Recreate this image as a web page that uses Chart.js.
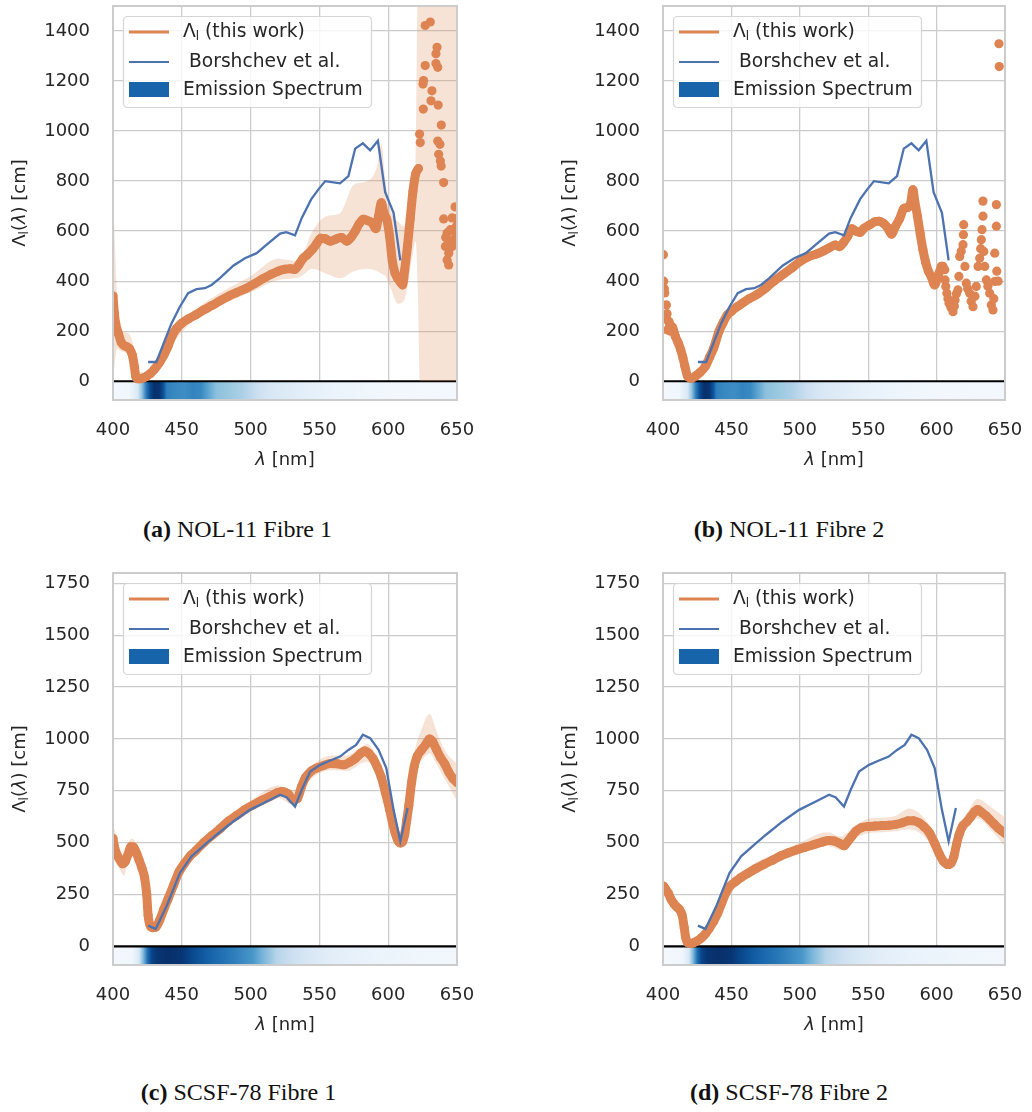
<!DOCTYPE html>
<html>
<head>
<meta charset="utf-8">
<script src="https://cdn.jsdelivr.net/npm/chart.js@4.4.1/dist/chart.umd.min.js"></script>
<style>
  body { margin: 0; background: #fff; }
  #page { position: relative; width: 1032px; height: 1112px; }
  .panel { position: absolute; width: 480px; }
  .cap { position: absolute; text-align: center; font-family: "Liberation Serif", serif; font-size: 24px; color: #111; }
</style>
</head>
<body>
<div id="page">
  <div class="panel" style="left:0;top:0;height:480px"><canvas id="chartA"></canvas></div>
  <div class="panel" style="left:550px;top:0;height:480px"><canvas id="chartB"></canvas></div>
  <div class="panel" style="left:0;top:567px;height:478px"><canvas id="chartC"></canvas></div>
  <div class="panel" style="left:550px;top:567px;height:478px"><canvas id="chartD"></canvas></div>
  <div class="cap" style="left:0;top:516px;width:475px"><b>(a)</b> NOL-11 Fibre 1</div>
  <div class="cap" style="left:550px;top:516px;width:478px"><b>(b)</b> NOL-11 Fibre 2</div>
  <div class="cap" style="left:0;top:1079px;width:477px"><b>(c)</b> SCSF-78 Fibre 1</div>
  <div class="cap" style="left:550px;top:1079px;width:478px"><b>(d)</b> SCSF-78 Fibre 2</div>
</div>
<script>
// axis ticks
const xTicks = [400, 450, 500, 550, 600, 650];
const yTicksNol = [0, 200, 400, 600, 800, 1000, 1200, 1400];
const yTicksScsf = [0, 250, 500, 750, 1000, 1250, 1500, 1750];

// Borshchev et al. reference curves
const borLamNol = [425.5, 431.5, 442.5, 448.6, 454.6, 460.7, 466.8, 471.6, 477.7, 487.4, 495.9, 504.4, 511.7, 521.4, 525.9, 532.3, 537.2, 544, 549.3, 554.2, 565, 571.1, 576, 581.6, 586.9, 592.5, 597.8, 603.9, 608.8];
const borValNol = [77, 77, 231, 298, 352, 368, 372, 385, 412, 462, 492, 512, 546, 590, 596, 583, 653, 727, 767, 800, 791, 820, 930, 951, 923, 961, 756, 673, 483];
const borLamScsf = [425.5, 431, 438.9, 448.6, 457.1, 466.8, 475.3, 487.4, 499.5, 511.7, 521.4, 526.3, 532.3, 537.2, 543.3, 550.6, 557.9, 565, 571.1, 576.7, 581.6, 586.9, 593, 598.6, 603.9, 608.8, 614.1];
const borValScsf = [100, 84, 193, 353, 434, 490, 538, 602, 658, 698, 731, 718, 674, 755, 843, 875, 896, 915, 947, 971, 1020, 1004, 947, 859, 658, 506, 667];

// emission spectra (normalised intensity)
const emLamNol = [400, 412, 418, 421, 424, 427, 430, 434, 437, 439, 445, 452, 458, 464, 469, 475, 485, 494, 505, 516, 530, 548, 570, 600, 650];
const emValNol = [0.02, 0.04, 0.15, 0.4, 0.7, 0.9, 1.0, 0.98, 0.85, 0.7, 0.66, 0.64, 0.68, 0.66, 0.55, 0.42, 0.38, 0.33, 0.22, 0.15, 0.12, 0.08, 0.05, 0.03, 0.02];
const emLamScsf = [400, 414, 419, 422, 425, 428, 432, 440, 450, 456, 468, 485, 502, 508, 519, 530, 543, 560, 580, 620, 650];
const emValScsf = [0.02, 0.04, 0.15, 0.45, 0.75, 0.92, 0.98, 1.0, 0.98, 0.92, 0.82, 0.72, 0.6, 0.48, 0.3, 0.22, 0.15, 0.1, 0.07, 0.04, 0.03];

// (a) NOL-11 fibre 1
const lamA = [400, 401, 402, 404, 406, 408, 410, 412, 414, 415.5, 416.5, 418, 420, 422, 424, 427, 430, 434, 437, 440, 443, 446, 450, 455, 460, 466, 472, 478, 484, 490, 497, 503, 509, 515, 520, 525, 529, 532, 535, 538, 541, 545, 548, 551, 554, 558, 562, 566, 570, 573, 576, 579, 582, 585, 588, 591, 593, 595, 597, 599, 601, 603, 605, 607, 609, 610.5, 612, 614, 616, 618, 620, 622];
const valA = [341, 270, 230, 190, 155, 143, 138, 130, 105, 60, 20, 10, 10, 13, 18, 30, 47, 77, 105, 140, 182, 210, 232, 250, 265, 285, 303, 322, 340, 355, 372, 390, 410, 428, 440, 448, 450, 447, 465, 490, 505, 528, 550, 572, 570, 560, 568, 575, 560, 575, 600, 630, 648, 642, 635, 610, 660, 713, 670, 646, 580, 480, 432, 410, 395, 385, 445, 540, 650, 760, 830, 850];
const noisyLamA = [622.8, 623.3, 625.5, 625.7, 625.3, 626.9, 626.9, 630.6, 631.1, 631.8, 634.7, 634.7, 635.5, 636.0, 636.3, 636.0, 637.6, 636.7, 637.9, 638.5, 638.6, 640.3, 640.3, 646.4, 648.6, 642.8, 645.2, 641.6, 644.0, 642.8, 644.0, 647.6, 646.4, 648.9, 649.6, 643.5, 645.5, 641.8, 644.5, 649.3];
const noisyValA = [988, 954, 1088, 1202, 1188, 1262, 1422, 1436, 1121, 1161, 1309, 1270, 1335, 1255, 1104, 960, 947, 907, 880, 860, 1024, 794, 649, 653, 697, 593, 606, 539, 512, 485, 465, 566, 539, 593, 620, 550, 560, 575, 530, 650];
const bandLamA = [400, 401, 403, 406, 410, 414, 418, 425, 440, 460, 480, 500, 520, 535, 545, 555, 565, 575, 585, 592, 595, 598, 602, 607, 612, 617, 620, 621.5, 623, 640, 645, 650];
const bandLowA = [0, 60, 130, 120, 110, 70, 0, 15, 130, 250, 310, 355, 405, 415, 450, 430, 412, 440, 450, 440, 430, 420, 370, 310, 330, 480, 560, 365, 0, 0, 0, 0];
const bandHighA = [760, 600, 350, 200, 195, 160, 40, 35, 160, 285, 360, 420, 490, 480, 600, 660, 672, 785, 800, 860, 950, 800, 680, 640, 620, 800, 870, 1600, 1600, 1600, 1600, 1600];

// (b) NOL-11 fibre 2
const lamB = [405, 407, 409, 411, 413, 414.5, 416, 418, 421, 424, 427, 431, 434, 437, 441, 444, 447, 450, 454, 458, 463, 469, 475, 481, 488, 494, 500, 506, 512, 517, 522, 526, 529, 532, 535, 538, 541, 544, 547, 551, 555, 558, 561, 564, 567, 570, 573, 576, 579, 581, 582.7, 584, 586, 588, 590, 592, 594, 596, 598.6, 601, 603.5];
const valB = [225, 215, 180, 155, 125, 95, 60, 20, 12, 22, 35, 60, 95, 132, 200, 235, 265, 280, 297, 312, 330, 348, 372, 400, 428, 452, 478, 497, 508, 520, 535, 545, 538, 555, 580, 610, 600, 595, 612, 625, 638, 640, 632, 615, 588, 620, 650, 690, 695, 710, 765, 720, 660, 590, 526, 475, 440, 419, 385, 420, 460];
const noisyLamB = [400.3, 400.5, 401, 401.3, 402.5, 403, 403.2, 403.3, 404.5, 405.5, 604.7, 606, 606.2, 606.7, 607.5, 608.3, 609.1, 610.5, 612, 613, 613.5, 614.5, 615.6, 616.3, 616.9, 618, 619.3, 619.6, 619.8, 620.7, 621.7, 622.7, 624.2, 625.3, 626.6, 628, 629, 630.3, 631.5, 632.2, 632.7, 633.2, 633.9, 633.9, 634.5, 635.2, 636.4, 637.5, 638.8, 640, 641.2, 641.8, 642.5, 642.5, 643.7, 643.7, 644, 645, 645.6, 645.8];
const noisyValB = [506, 400, 370, 353, 305, 270, 245, 205, 238, 200, 459, 446, 405, 379, 352, 330, 312, 295, 278, 300, 325, 350, 365, 419, 499, 520, 546, 586, 626, 459, 392, 370, 352, 320, 298, 340, 379, 459, 492, 530, 566, 606, 660, 720, 519, 459, 405, 380, 352, 305, 285, 330, 399, 512, 620, 706, 440, 400, 1349, 1258];

// (c) SCSF-78 fibre 1
const lamC = [400, 401, 403, 405, 407, 409, 411, 413, 415, 417, 419, 421, 423, 424.5, 425.5, 427, 429, 431, 434, 437, 440, 444, 448, 452, 456, 460, 466, 472, 478, 484, 490, 496, 502, 508, 514, 519, 523, 527, 531, 534, 537, 540, 544, 548, 553, 558, 563, 568, 572, 576, 580, 583, 586, 589, 592, 595, 598, 601, 603, 605, 607, 608.8, 610.5, 612, 613.5, 615, 617, 619, 621, 624, 627, 630, 632, 635, 638, 641, 644, 647, 650];
const valC = [520, 480, 440, 418, 398, 410, 445, 480, 478, 450, 415, 378, 330, 250, 150, 100, 90, 92, 128, 180, 228, 295, 360, 400, 435, 460, 500, 535, 568, 604, 632, 660, 682, 703, 722, 740, 747, 737, 707, 712, 770, 815, 845, 860, 872, 882, 880, 875, 888, 905, 930, 942, 930, 905, 865, 815, 740, 660, 600, 548, 510, 498, 505, 540, 610, 680, 790, 870, 915, 945, 970, 1000, 990, 950, 910, 880, 840, 810, 790];
const bandLamC = [400, 402, 405, 408, 411, 414, 418, 422, 426, 430, 440, 460, 480, 500, 520, 530, 540, 550, 560, 570, 580, 585, 590, 600, 608, 612, 618, 625, 630, 635, 640, 645, 650];
const bandLowC = [420, 400, 370, 340, 420, 440, 400, 330, 90, 75, 210, 440, 555, 650, 715, 685, 780, 835, 850, 845, 880, 890, 850, 650, 480, 500, 820, 900, 930, 880, 820, 760, 700];
const bandHighC = [590, 540, 470, 430, 500, 520, 480, 420, 160, 110, 250, 480, 600, 700, 775, 750, 830, 900, 920, 920, 960, 975, 930, 700, 520, 580, 900, 1060, 1120, 1040, 960, 910, 880];

// (d) SCSF-78 fibre 2
const lamD = [400.5, 402, 404, 406, 408, 410, 412, 414, 415.5, 416.5, 418, 420, 422, 425, 428, 431, 434, 437, 440, 443, 446, 449, 453, 457, 462, 468, 474, 480, 486, 492, 498, 504, 510, 516, 521, 525, 529, 532.5, 535, 538, 541, 545, 550, 555, 560, 565, 570, 575, 579, 583, 587, 591, 595, 599, 602, 605, 608, 610.5, 612.5, 614.5, 616.5, 619, 622, 625, 628, 630, 633, 636, 639, 642, 645, 648, 650];
const valD = [290, 275, 255, 225, 205, 190, 178, 150, 90, 45, 18, 14, 16, 26, 40, 60, 88, 120, 160, 210, 258, 290, 312, 332, 352, 375, 396, 415, 436, 452, 466, 478, 490, 502, 510, 508, 497, 485, 505, 530, 555, 572, 578, 580, 582, 584, 588, 596, 605, 606, 596, 575, 545, 490, 445, 410, 394, 400, 430, 490, 540, 580, 600, 625, 650, 660, 645, 630, 610, 590, 570, 555, 545];
const bandLamD = [400, 405, 410, 414, 418, 425, 435, 445, 460, 480, 500, 520, 530, 540, 550, 560, 570, 580, 590, 600, 608, 615, 622, 630, 640, 650];
const bandLowD = [250, 205, 170, 130, 5, 15, 80, 225, 320, 395, 445, 485, 465, 520, 545, 550, 555, 565, 535, 450, 375, 490, 565, 615, 560, 480];
const bandHighD = [330, 260, 215, 180, 40, 40, 105, 260, 370, 440, 500, 550, 530, 580, 615, 620, 630, 665, 625, 530, 420, 560, 640, 710, 670, 620];

const ORANGE = '#dd8452';
const BLUE = '#4c72b0';
const TXT = '#262626';
const F = '18px "DejaVu Sans"';
const FL = '18.7px "DejaVu Sans"';
const FS = '12px "DejaVu Sans"';
const FI = 'italic 18px "DejaVu Sans"';

Chart.defaults.font.family = '"DejaVu Sans"';

const bluesHex = ['#f7fbff', '#deebf7', '#c6dbef', '#9ecae1', '#6baed6', '#4292c6', '#2171b5', '#08519c', '#08306b'];
function hexRgb(h) {
    return [1, 3, 5].map(i => parseInt(h.slice(i, i + 2), 16));
}
function blues(t) {
    t = Math.max(0, Math.min(1, t)) * 8;
    const i = Math.min(7, Math.floor(t)), f = t - i;
    const a = hexRgb(bluesHex[i]), b = hexRgb(bluesHex[i + 1]);
    return 'rgb(' + a.map((v, k) => Math.round(v + (b[k] - v) * f)).join(',') + ')';
}

function pts(xs, ys) {
    return xs.map((x, i) => ({x: x, y: ys[i]}));
}

// draw a run of text pieces [text, font, dy]
function partsWidth(ctx, parts) {
    let w = 0;
    for (const p of parts) { ctx.font = p[1]; w += ctx.measureText(p[0]).width; }
    return w;
}
function drawParts(ctx, parts, x, y) {
    let cx = x;
    for (const p of parts) {
        ctx.font = p[1];
        ctx.fillText(p[0], cx, y + (p[2] || 0));
        cx += ctx.measureText(p[0]).width;
    }
}

function makeDecor(emLam, emVal) {
    return {
        id: 'decor',
        beforeDatasetsDraw(chart) {
            // emission spectrum strip below zero
            const {ctx, chartArea: a, scales: {x, y}} = chart;
            const x0 = x.getPixelForValue(x.min), x1 = x.getPixelForValue(x.max);
            const g = ctx.createLinearGradient(x0, 0, x1, 0);
            emLam.forEach((l, i) => {
                const t = (x.getPixelForValue(l) - x0) / (x1 - x0);
                g.addColorStop(Math.max(0, Math.min(1, t)), blues(emVal[i]));
            });
            const yTop = y.getPixelForValue(0), yBot = y.getPixelForValue(y.min);
            ctx.save();
            ctx.fillStyle = g;
            ctx.fillRect(a.left, yTop, a.right - a.left, yBot - yTop);
            ctx.restore();
        },
        afterDatasetsDraw(chart) {
            const {ctx, chartArea: a} = chart;
            ctx.save();
            ctx.strokeStyle = '#cccccc';
            ctx.lineWidth = 2;
            ctx.strokeRect(a.left, a.top, a.right - a.left, a.bottom - a.top);
            ctx.restore();
        },
        afterDraw(chart) {
            const {ctx, chartArea: a} = chart;
            ctx.save();
            ctx.fillStyle = TXT;
            ctx.textBaseline = 'middle';

            // legend
            const lx = a.left + 10, ly = a.top + 10;
            ctx.beginPath();
            ctx.roundRect(lx + 0.5, ly + 0.5, 248, 91, 4);
            ctx.fillStyle = 'rgba(255,255,255,0.8)';
            ctx.fill();
            ctx.strokeStyle = '#d5d5d5';
            ctx.lineWidth = 1.2;
            ctx.stroke();

            ctx.lineCap = 'butt';
            ctx.strokeStyle = ORANGE;
            ctx.lineWidth = 3;
            ctx.beginPath(); ctx.moveTo(lx + 6, ly + 16); ctx.lineTo(lx + 46, ly + 16); ctx.stroke();
            ctx.strokeStyle = BLUE;
            ctx.lineWidth = 2.2;
            ctx.beginPath(); ctx.moveTo(lx + 6, ly + 46); ctx.lineTo(lx + 46, ly + 46); ctx.stroke();
            ctx.fillStyle = '#1764ab';
            ctx.fillRect(lx + 6, ly + 66, 40, 15);

            ctx.fillStyle = TXT;
            drawParts(ctx, [['Λ', FL], ['l', FS, 5], [' (this work)', FL]], lx + 60, ly + 16);
            drawParts(ctx, [[' Borshchev et al.', FL]], lx + 60, ly + 46);
            drawParts(ctx, [['Emission Spectrum', FL]], lx + 60, ly + 74);

            // x title
            const xt = [['λ', FI], [' [nm]', F]];
            drawParts(ctx, xt, (a.left + a.right) / 2 - partsWidth(ctx, xt) / 2, a.bottom + 60);

            // y title
            const yt = [['Λ', F], ['l', FS, 5], ['(', F], ['λ', FI], [') [cm]', F]];
            ctx.translate(20, (a.top + a.bottom) / 2);
            ctx.rotate(-Math.PI / 2);
            drawParts(ctx, yt, -partsWidth(ctx, yt) / 2, 0);
            ctx.restore();
        }
    };
}

function makeChart(id, p) {
    const datasets = [
        {
            label: ' Borshchev et al.', data: pts(p.borLam, p.borVal),
            borderColor: BLUE, borderWidth: 2.3, pointRadius: 0, tension: 0, clip: 0
        }
    ];
    if (p.noisyLam) {
        datasets.push({
            label: 'noisy', data: pts(p.noisyLam, p.noisyVal), showLine: false,
            pointRadius: 4.6, pointBackgroundColor: ORANGE, pointBorderWidth: 0, clip: 0
        });
    }
    datasets.push({
        label: 'this work', data: pts(p.lam, p.val),
        borderColor: ORANGE, borderWidth: 9, borderCapStyle: 'round', borderJoinStyle: 'round',
        cubicInterpolationMode: 'monotone',
        pointRadius: 4.5, pointBackgroundColor: ORANGE, pointBorderWidth: 0, clip: 0
    });
    if (p.bandLam) {
        datasets.push({
            label: 'band high', data: pts(p.bandLam, p.bandHigh), fill: '+1',
            backgroundColor: 'rgba(221,132,82,0.24)', borderWidth: 0, pointRadius: 0,
            cubicInterpolationMode: 'monotone', clip: 0
        });
        datasets.push({
            label: 'band low', data: pts(p.bandLam, p.bandLow), fill: false,
            borderWidth: 0, pointRadius: 0, cubicInterpolationMode: 'monotone', clip: 0
        });
    }
    datasets.push({
        label: 'zero', data: pts([xTicks[0], xTicks[xTicks.length - 1]], [0, 0]),
        borderColor: '#000000', borderWidth: 2.2, pointRadius: 0, clip: 0
    });

    return new Chart(document.getElementById(id), {
        type: 'line',
        data: {datasets: datasets},
        options: {
            responsive: true,
            maintainAspectRatio: false,
            animation: false,
            events: [],
            devicePixelRatio: 1,
            layout: {padding: {left: 0, right: p.padRight, top: 6, bottom: 0}},
            plugins: {legend: {display: false}, tooltip: {enabled: false}},
            scales: {
                x: {
                    type: 'linear', min: 400, max: 650,
                    afterBuildTicks: s => { s.ticks = xTicks.map(v => ({value: v})); },
                    afterFit: s => { s.height = 80; s.paddingLeft = 0; s.paddingRight = 0; },
                    ticks: {color: TXT, font: {size: 18}, padding: 20, maxRotation: 0, callback: v => String(v)},
                    grid: {color: '#cccccc', lineWidth: 1.3, drawTicks: false},
                    border: {display: false}
                },
                y: {
                    type: 'linear', min: p.yMin, max: p.yMax,
                    afterBuildTicks: s => { s.ticks = p.yTicks.map(v => ({value: v})); },
                    afterFit: s => { s.width = 113; s.paddingTop = 0; s.paddingBottom = 0; },
                    ticks: {color: TXT, font: {size: 18}, padding: 23, callback: v => String(v)},
                    grid: {color: '#cccccc', lineWidth: 1.3, drawTicks: false},
                    border: {display: false}
                }
            }
        },
        plugins: [makeDecor(p.emLam, p.emVal)]
    });
}

makeChart('chartA', {
    lam: lamA, val: valA, noisyLam: noisyLamA, noisyVal: noisyValA,
    bandLam: bandLamA, bandLow: bandLowA, bandHigh: bandHighA,
    borLam: borLamNol, borVal: borValNol, emLam: emLamNol, emVal: emValNol,
    yMin: -75, yMax: 1500, yTicks: yTicksNol, padRight: 23
});
makeChart('chartB', {
    lam: lamB, val: valB, noisyLam: noisyLamB, noisyVal: noisyValB,
    borLam: borLamNol, borVal: borValNol, emLam: emLamNol, emVal: emValNol,
    yMin: -75, yMax: 1500, yTicks: yTicksNol, padRight: 25
});
makeChart('chartC', {
    lam: lamC, val: valC,
    bandLam: bandLamC, bandLow: bandLowC, bandHigh: bandHighC,
    borLam: borLamScsf, borVal: borValScsf, emLam: emLamScsf, emVal: emValScsf,
    yMin: -90, yMax: 1800, yTicks: yTicksScsf, padRight: 23
});
makeChart('chartD', {
    lam: lamD, val: valD,
    bandLam: bandLamD, bandLow: bandLowD, bandHigh: bandHighD,
    borLam: borLamScsf, borVal: borValScsf, emLam: emLamScsf, emVal: emValScsf,
    yMin: -90, yMax: 1800, yTicks: yTicksScsf, padRight: 25
});
</script>
</body>
</html>
